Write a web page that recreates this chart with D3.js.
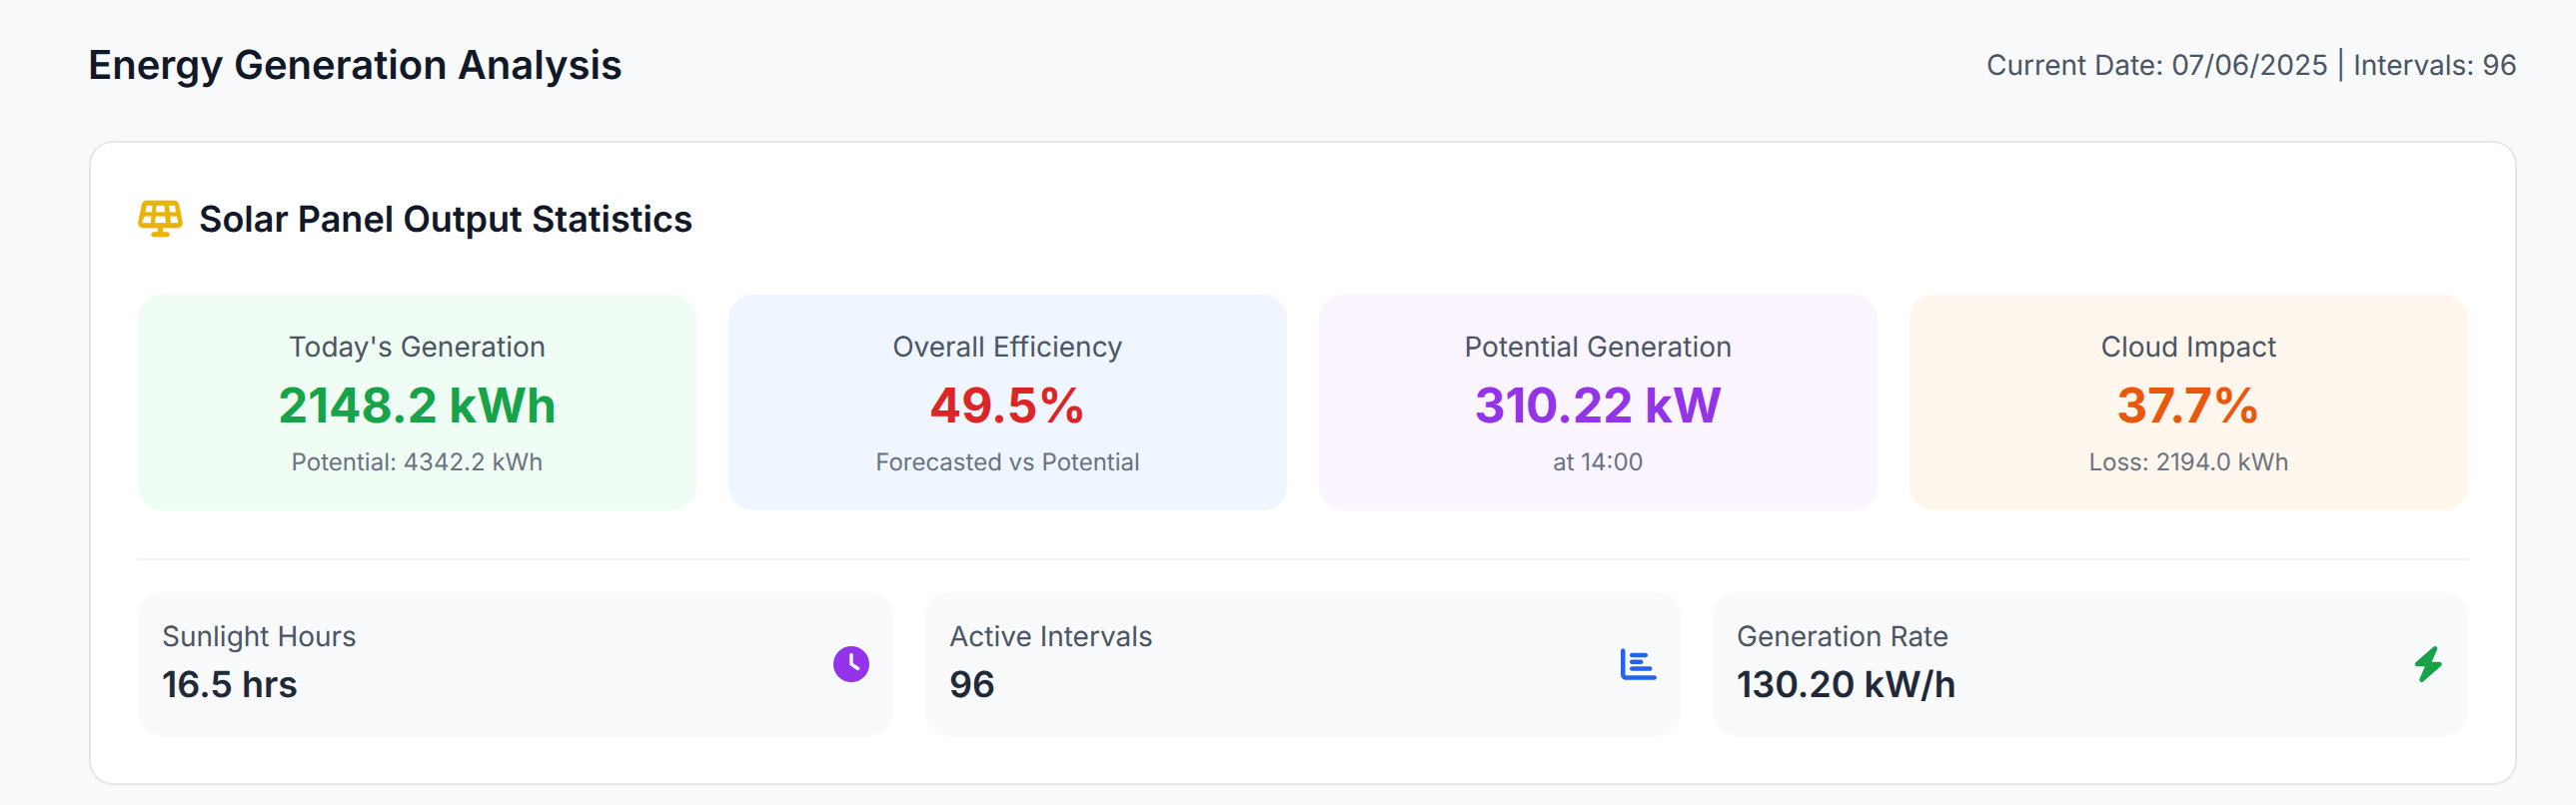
<!DOCTYPE html>
<html>
<head>
<meta charset="utf-8">
<title>Energy Generation Analysis</title>
<script src="https://cdn.jsdelivr.net/npm/d3@7"></script>
<style>
  html, body { margin: 0; padding: 0; background: #f9fafb; overflow: hidden; }
  svg { display: block; font-family: Inter, "Noto Sans", sans-serif; text-rendering: geometricPrecision; }
</style>
</head>
<body>
<script>
// the numbers of the dashboard
var statLabels = ["Today's Generation", "Overall Efficiency", "Potential Generation", "Cloud Impact"];
var statValues = ["2148.2 kWh", "49.5%", "310.22 kW", "37.7%"];
var statNotes = ["Potential: 4342.2 kWh", "Forecasted vs Potential", "at 14:00", "Loss: 2194.0 kWh"];
var statFills = ["#f0fdf4", "#eff6ff", "#faf5ff", "#fff7ed"];
var statColors = ["#16a34a", "#dc2626", "#9333ea", "#ea580c"];

var infoLabels = ["Sunlight Hours", "Active Intervals", "Generation Rate"];
var infoValues = ["16.5 hrs", "96", "130.20 kW/h"];
var infoColors = ["#9333ea", "#2563eb", "#16a34a"];

// icon glyphs, own box size in the first two fields
var icons = [
  { w: 512, d: "M256 0a256 256 0 1 1 0 512A256 256 0 1 1 256 0zM232 120V256c0 8 4 15.5 10.7 20l96 64c11 7.4 25.9 4.4 33.3-6.7s4.4-25.9-6.7-33.3L280 243.2V120c0-13.3-10.7-24-24-24s-24 10.7-24 24z" },
  { w: 512, d: "M32 32c17.7 0 32 14.3 32 32V400c0 8.8 7.2 16 16 16H480c17.7 0 32 14.3 32 32s-14.3 32-32 32H80c-44.2 0-80-35.8-80-80V64C0 46.3 14.3 32 32 32zm96 96c0-17.7 14.3-32 32-32l192 0c17.7 0 32 14.3 32 32s-14.3 32-32 32l-192 0c-17.7 0-32-14.3-32-32zm32 64H288c17.7 0 32 14.3 32 32s-14.3 32-32 32H160c-17.7 0-32-14.3-32-32s14.3-32 32-32zm0 96H416c17.7 0 32 14.3 32 32s-14.3 32-32 32H160c-17.7 0-32-14.3-32-32s14.3-32 32-32z" },
  { w: 448, d: "M349.4 44.6c5.9-13.7 1.5-29.7-10.6-38.5s-28.6-8-39.9 1.8l-256 224c-10 8.8-13.6 22.9-8.9 35.3S50.7 288 64 288H175.5L98.6 467.4c-5.9 13.7-1.5 29.7 10.6 38.5s28.6 8 39.9-1.8l256-224c10-8.8 13.6-22.9 8.9-35.3s-16.6-20.7-30-20.7H272.5L349.4 44.6z" }
];
var solarIcon = "M122.2 0C91.7 0 65.5 21.5 59.5 51.4L8.3 307.4C.4 347 30.6 384 71 384H288v64H224c-17.7 0-32 14.3-32 32s14.3 32 32 32H416c17.7 0 32-14.3 32-32s-14.3-32-32-32H352V384H569c40.4 0 70.7-37 62.8-76.6l-51.2-256C574.5 21.5 548.3 0 517.8 0H122.2zM260.9 64H379.1l10.4 104H250.5L260.9 64zM202.3 168H101.4L122.3 64h90.4L202.3 168zM91.8 216H197.5L187.1 320H71c-10.1 0-17.6-9.2-15.7-19.1L91.8 216zM402.5 320H237.5l10.4-104H392.1l10.4 104zM448.4 168L438 64h79.7c7.6 0 14.2 5.4 15.7 12.9L548.6 168H448.4zM453.3 216H558.2l16.5 84.9c2 9.9-5.6 19.1-15.7 19.1H463.7L453.3 216z";

var width = 2578, height = 806;
var left = 138, right = 2470, gap = 32;

var svg = d3.select("body").append("svg")
  .attr("width", width)
  .attr("height", height)
  .attr("viewBox", "0 0 " + width + " " + height);

// header
svg.append("text")
  .attr("x", 88).attr("y", 79)
  .attr("font-size", 40).attr("font-weight", 600).attr("fill", "#111827")
  .text("Energy Generation Analysis");
svg.append("text")
  .attr("x", 2519).attr("y", 75)
  .attr("text-anchor", "end")
  .attr("font-size", 28).attr("fill", "#4b5563")
  .text("Current Date: 07/06/2025 | Intervals: 96");

// main card
svg.append("rect")
  .attr("x", 90).attr("y", 142)
  .attr("width", 2428).attr("height", 643)
  .attr("rx", 23)
  .attr("fill", "#ffffff")
  .attr("stroke", "#e5e7eb").attr("stroke-width", 2)
  .style("filter", "drop-shadow(0 1px 1px rgba(0,0,0,0.03))");

svg.append("path")
  .attr("transform", "translate(138,201) scale(" + (36 / 512) + ")")
  .attr("fill-rule", "evenodd")
  .attr("fill", "#eab308")
  .attr("stroke", "#eab308").attr("stroke-width", 10)
  .attr("d", solarIcon);
svg.append("text")
  .attr("x", 199).attr("y", 232)
  .attr("font-size", 36).attr("font-weight", 600).attr("fill", "#111827")
  .text("Solar Panel Output Statistics");

// top row
var statX = d3.scaleBand()
  .domain(statLabels)
  .range([left, right])
  .paddingInner(gap / ((right - left + gap) / statLabels.length));

var stat = svg.selectAll("g.stat")
  .data(statLabels)
  .enter()
  .append("g")
  .attr("class", "stat")
  .attr("transform", function(d) { return "translate(" + statX(d) + ",0)"; });
stat.append("rect")
  .attr("y", 295)
  .attr("width", statX.bandwidth())
  .attr("height", 216)
  .attr("rx", 24)
  .attr("fill", function(d, i) { return statFills[i]; });
stat.append("text")
  .attr("x", statX.bandwidth() / 2).attr("y", 357)
  .attr("text-anchor", "middle")
  .attr("font-size", 28).attr("fill", "#4b5563")
  .text(function(d) { return d; });
stat.append("text")
  .attr("x", statX.bandwidth() / 2).attr("y", 423)
  .attr("text-anchor", "middle")
  .attr("font-size", 48).attr("font-weight", 700)
  .attr("fill", function(d, i) { return statColors[i]; })
  .text(function(d, i) { return statValues[i]; });
stat.append("text")
  .attr("x", statX.bandwidth() / 2).attr("y", 471)
  .attr("text-anchor", "middle")
  .attr("font-size", 24).attr("fill", "#6b7280")
  .text(function(d, i) { return statNotes[i]; });

// divider
svg.append("rect")
  .attr("x", left).attr("y", 559)
  .attr("width", right - left).attr("height", 2)
  .attr("fill", "#f3f4f6");

// bottom row
var infoX = d3.scaleBand()
  .domain(infoLabels)
  .range([left, right])
  .paddingInner(gap / ((right - left + gap) / infoLabels.length));

var info = svg.selectAll("g.info")
  .data(infoLabels)
  .enter()
  .append("g")
  .attr("class", "info")
  .attr("transform", function(d) { return "translate(" + infoX(d) + ",0)"; });
info.append("rect")
  .attr("y", 593)
  .attr("width", infoX.bandwidth())
  .attr("height", 144)
  .attr("rx", 24)
  .attr("fill", "#f9fafb");
info.append("text")
  .attr("x", 24).attr("y", 647)
  .attr("font-size", 28).attr("fill", "#4b5563")
  .text(function(d) { return d; });
info.append("text")
  .attr("x", 24).attr("y", 698)
  .attr("font-size", 36).attr("font-weight", 600).attr("fill", "#1f2937")
  .text(function(d, i) { return infoValues[i]; });
info.append("path")
  .attr("transform", function(d, i) {
    var k = 36 / 512;
    return "translate(" + (infoX.bandwidth() - 24 - icons[i].w * k) + ",647) scale(" + k + ")";
  })
  .attr("fill", function(d, i) { return infoColors[i]; })
  .attr("d", function(d, i) { return icons[i].d; });
</script>
</body>
</html>
